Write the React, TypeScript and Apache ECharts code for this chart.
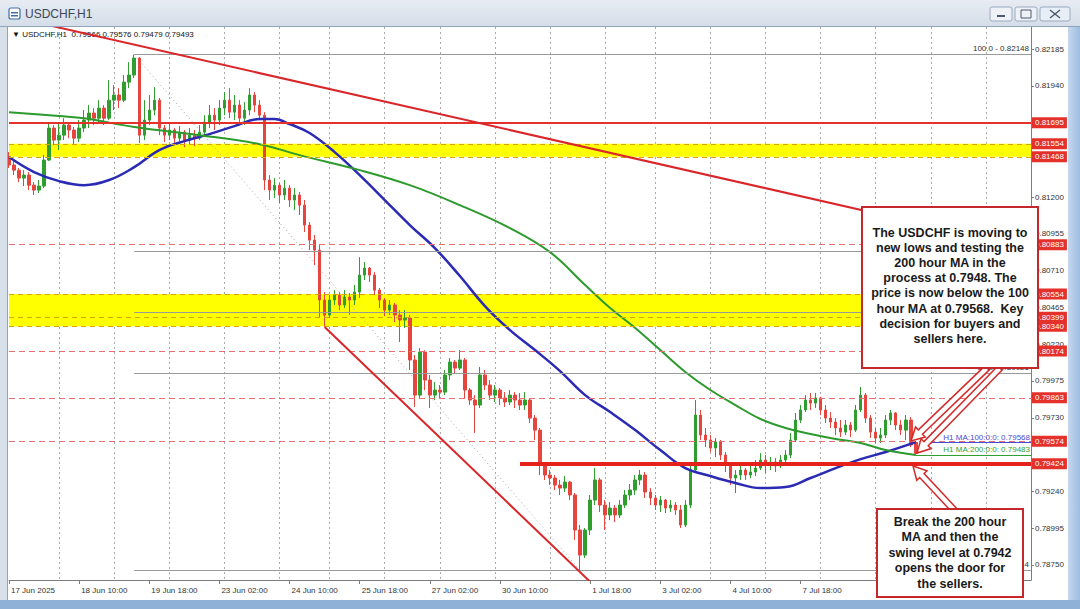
import React, { useEffect, useRef } from "react";
import * as echarts from "echarts";

// Prices are stored in points (1e-5), e.g. 81695 = 0.81695
// candle: [open, close, low, high]
const candles: number[][] = [
  [81459, 81413, 81393, 81499], [81413, 81379, 81346, 81446], [81379, 81326, 81299, 81393], [81326, 81346, 81273, 81379],
  [81346, 81279, 81246, 81366], [81279, 81246, 81213, 81299], [81246, 81273, 81226, 81313], [81273, 81446, 81259, 81479],
  [81446, 81659, 81440, 81692], [81659, 81579, 81546, 81679], [81579, 81612, 81512, 81699], [81612, 81679, 81579, 81725],
  [81679, 81646, 81592, 81699], [81646, 81592, 81546, 81666], [81592, 81659, 81566, 81712], [81659, 81712, 81632, 81779],
  [81712, 81759, 81659, 81812], [81759, 81725, 81679, 81792], [81725, 81792, 81699, 81845], [81792, 81725, 81679, 81812],
  [81725, 81845, 81712, 81978], [81845, 81879, 81779, 81945], [81879, 81845, 81792, 81925], [81845, 81965, 81832, 82012],
  [81965, 82012, 81925, 82098], [82012, 82125, 81992, 82148], [82125, 81612, 81559, 82130], [81612, 81712, 81579, 81845],
  [81712, 81779, 81679, 81879], [81779, 81845, 81745, 81932], [81845, 81659, 81612, 81859], [81659, 81612, 81566, 81679],
  [81612, 81646, 81579, 81699], [81646, 81592, 81546, 81659], [81592, 81632, 81566, 81672], [81632, 81579, 81532, 81646],
  [81579, 81612, 81546, 81659], [81612, 81592, 81539, 81646], [81592, 81632, 81579, 81679], [81632, 81699, 81606, 81745],
  [81699, 81745, 81659, 81812], [81745, 81712, 81646, 81792], [81712, 81792, 81679, 81845], [81792, 81845, 81745, 81899],
  [81845, 81765, 81725, 81925], [81765, 81812, 81712, 81879], [81812, 81725, 81679, 81845], [81725, 81779, 81679, 81832],
  [81779, 81879, 81745, 81925], [81879, 81812, 81765, 81899], [81812, 81745, 81712, 81845], [81745, 81313, 81246, 81765],
  [81313, 81246, 81180, 81346], [81246, 81279, 81193, 81326], [81279, 81213, 81160, 81293], [81213, 81259, 81180, 81313],
  [81259, 81180, 81133, 81279], [81180, 81213, 81113, 81259], [81213, 81146, 81080, 81233], [81146, 81013, 80967, 81180],
  [81013, 80913, 80847, 81033], [80913, 80847, 80747, 80947], [80847, 80514, 80394, 80880], [80514, 80414, 80334, 80567],
  [80414, 80514, 80394, 80547], [80514, 80547, 80481, 80580], [80547, 80481, 80447, 80567], [80481, 80534, 80461, 80580],
  [80534, 80514, 80414, 80561], [80514, 80567, 80481, 80614], [80567, 80680, 80527, 80800], [80680, 80727, 80647, 80767],
  [80727, 80680, 80634, 80734], [80680, 80580, 80547, 80700], [80580, 80514, 80461, 80594], [80514, 80447, 80407, 80527],
  [80447, 80481, 80414, 80514], [80481, 80414, 80367, 80494], [80414, 80381, 80234, 80447], [80381, 80394, 80328, 80447],
  [80394, 80115, 80048, 80414], [80115, 79881, 79802, 80148], [79881, 80168, 79862, 80194], [80168, 79981, 79915, 80180],
  [79981, 79881, 79795, 80015], [79881, 79915, 79848, 79968], [79915, 79901, 79862, 79948], [79901, 80015, 79881, 80048],
  [80015, 80101, 79981, 80128], [80101, 80061, 80028, 80115], [80061, 80115, 80048, 80181], [80115, 79915, 79862, 80128],
  [79915, 79848, 79815, 79928], [79848, 79815, 79629, 79881], [79815, 80015, 79795, 80068], [80015, 79948, 79915, 80048],
  [79948, 79881, 79848, 79981], [79881, 79915, 79835, 79948], [79915, 79862, 79815, 79928], [79862, 79835, 79802, 79901],
  [79835, 79881, 79815, 79915], [79881, 79848, 79795, 79901], [79848, 79815, 79782, 79895], [79815, 79848, 79782, 79901],
  [79848, 79728, 79695, 79862], [79728, 79648, 79582, 79748], [79648, 79415, 79349, 79662], [79415, 79349, 79316, 79435],
  [79349, 79329, 79282, 79382], [79329, 79282, 79249, 79349], [79282, 79262, 79216, 79316], [79262, 79302, 79236, 79342],
  [79302, 79216, 79182, 79310], [79216, 78983, 78916, 79229], [78983, 78816, 78714, 79016], [78816, 78983, 78796, 78996],
  [78983, 79182, 78949, 79216], [79182, 79316, 79149, 79395], [79316, 79149, 79103, 79329], [79149, 79083, 78983, 79182],
  [79083, 79129, 79049, 79169], [79129, 79083, 79036, 79149], [79083, 79149, 79063, 79182], [79149, 79216, 79129, 79249],
  [79216, 79249, 79182, 79289], [79249, 79316, 79216, 79349], [79316, 79349, 79282, 79382], [79349, 79236, 79196, 79369],
  [79236, 79196, 79149, 79262], [79196, 79149, 79116, 79216], [79149, 79182, 79103, 79209], [79182, 79129, 79096, 79190],
  [79129, 79149, 79103, 79182], [79149, 79116, 79083, 79169], [79116, 79016, 78996, 79149], [79016, 79149, 79003, 79182],
  [79149, 79382, 79129, 79415], [79382, 79748, 79369, 79848], [79748, 79615, 79582, 79782], [79615, 79582, 79535, 79662],
  [79582, 79529, 79502, 79615], [79529, 79569, 79469, 79595], [79569, 79482, 79449, 79582], [79482, 79415, 79369, 79502],
  [79415, 79329, 79282, 79435], [79329, 79349, 79229, 79382], [79349, 79382, 79316, 79415], [79382, 79349, 79316, 79395],
  [79349, 79369, 79329, 79409], [79369, 79395, 79342, 79449], [79395, 79449, 79382, 79495], [79449, 79415, 79362, 79482],
  [79415, 79435, 79382, 79469], [79435, 79409, 79369, 79462], [79409, 79449, 79395, 79482], [79449, 79482, 79415, 79515],
  [79482, 79582, 79462, 79629], [79582, 79715, 79569, 79762], [79715, 79782, 79695, 79815], [79782, 79848, 79768, 79881],
  [79848, 79828, 79782, 79895], [79828, 79862, 79795, 79895], [79862, 79782, 79748, 79870], [79782, 79728, 79695, 79815],
  [79728, 79702, 79662, 79768], [79702, 79662, 79615, 79728], [79662, 79635, 79602, 79715], [79635, 79682, 79615, 79715],
  [79682, 79648, 79602, 79702], [79648, 79782, 79635, 79815], [79782, 79881, 79768, 79935], [79881, 79728, 79695, 79895],
  [79728, 79635, 79595, 79748], [79635, 79595, 79562, 79662], [79595, 79615, 79562, 79662], [79615, 79715, 79595, 79748],
  [79715, 79762, 79682, 79782], [79762, 79682, 79648, 79768], [79682, 79648, 79615, 79715], [79648, 79715, 79582, 79748],
  [79715, 79549, 79535, 79735], [79566, 79493, 79479, 79576],
];

// moving averages read at candle indices: [index, value]
const ma100: number[][] = [
  [0, 81466], [5, 81366], [10, 81306], [15, 81279], [20, 81313], [25, 81399], [30, 81512], [35, 81572],
  [40, 81619], [45, 81672], [50, 81719], [53, 81719], [56, 81686], [60, 81626], [65, 81499], [70, 81346],
  [75, 81180], [80, 81013], [85, 80860], [90, 80674], [95, 80474], [100, 80314], [105, 80181], [110, 80041],
  [115, 79881], [120, 79768], [125, 79648], [130, 79515], [135, 79395], [140, 79342], [145, 79296], [150, 79262],
  [155, 79269], [160, 79329], [165, 79395], [170, 79455], [175, 79502], [181, 79568],
];
const ma200: number[][] = [
  [0, 81765], [10, 81739], [15, 81725], [25, 81666], [38, 81612], [50, 81552], [58, 81479], [70, 81379],
  [80, 81279], [90, 81146], [100, 80993], [108, 80833], [115, 80614], [120, 80461], [125, 80328], [130, 80181],
  [135, 80035], [140, 79915], [145, 79815], [150, 79722], [155, 79662], [160, 79622], [165, 79589], [170, 79562],
  [175, 79515], [181, 79482],
];

const categoryCount = 205;
const timeTicks: [number, string][] = [
  [0, "17 Jun 2025"], [14, "18 Jun 10:00"], [28, "19 Jun 18:00"], [42, "23 Jun 02:00"], [56, "24 Jun 10:00"],
  [70, "25 Jun 18:00"], [84, "27 Jun 02:00"], [98, "30 Jun 10:00"], [116, "1 Jul 18:00"], [130, "3 Jul 02:00"],
  [144, "4 Jul 10:00"], [158, "7 Jul 18:00"],
];
const gridLineIdx = [10, 21, 32, 43, 54, 64, 75, 86, 97, 108, 119, 129, 140, 151, 162, 173, 184, 195];

const priceTicks = [82185, 81940, 81200, 80955, 80710, 80465, 80220, 79975, 79730, 79240, 78995, 78750];
const solidLevels = [81695];
const bandUpper = [81554, 81468];
const bandLower = [80554, 80340];
const bandDashedLevels = [81554, 81468, 80554, 80399, 80340];
const dashedLevels = [80883, 80174, 79863, 79574];
const supportLevel = 79424;
const supportStartIdx = 102;
const lastPrice = 79493;
const ma100Last = 79568;
const ma200Last = 79483;
const fibHigh = 82148;
const fibLow = 78714;
const fibHighIdx = 25;
const fibLowIdx = 114;
const fibRatios = [1, 0.618, 0.5, 0.382, 0];
const fibLabelled = [1, 0.382, 0];
const topTrend: number[][] = [[0, 82404], [178, 81054]];
const lowTrend: number[][] = [[63, 80334], [120, 78510]];

const FONT = '"Liberation Sans", Arial, sans-serif';
const fmt = (v: number) => (v / 1e5).toFixed(5);

function arrowPoints(tail: number[], tip: number[], sh: number, hh: number, hl: number) {
  const dx = tip[0] - tail[0];
  const dy = tip[1] - tail[1];
  const len = Math.hypot(dx, dy);
  const ux = dx / len, uy = dy / len;
  const nx = -uy, ny = ux;
  const bx = tip[0] - ux * hl, by = tip[1] - uy * hl;
  return [
    [tail[0] + nx * sh, tail[1] + ny * sh],
    [bx + nx * sh, by + ny * sh],
    [bx + nx * hh, by + ny * hh],
    [tip[0], tip[1]],
    [bx - nx * hh, by - ny * hh],
    [bx - nx * sh, by - ny * sh],
    [tail[0] - nx * sh, tail[1] - ny * sh],
  ];
}

export default function App() {
  const ref = useRef<HTMLDivElement>(null);
  useEffect(() => {
    if (!ref.current) return;
    const chart = echarts.init(ref.current, undefined, { renderer: "svg" });
    const tickMap = new Map(timeTicks);
    const gridSet = new Set(gridLineIdx);
    const categories = Array.from({ length: categoryCount }, (_, i) => tickMap.get(i) ?? "b" + i);
    const lastIdx = categoryCount - 1;

    const redLabel = (v: number, bg = "#e4322b") => ({
      show: true,
      position: "end",
      distance: 1,
      formatter: fmt(v),
      backgroundColor: bg,
      color: "#ffffff",
      fontSize: 8,
      fontFamily: FONT,
      padding: [2, 3, 1, 3],
    });

    const bgMarkLines: any[] = [];
    solidLevels.forEach((v) =>
      bgMarkLines.push({ yAxis: v, lineStyle: { color: "#e4322b", width: 2, type: "solid" }, label: redLabel(v) })
    );
    bandDashedLevels.forEach((v) =>
      bgMarkLines.push({ yAxis: v, lineStyle: { color: "#d9a400", width: 1, type: [5, 4] }, label: redLabel(v) })
    );
    dashedLevels.forEach((v) =>
      bgMarkLines.push({ yAxis: v, lineStyle: { color: "#e87070", width: 1, type: [6, 4] }, label: redLabel(v) })
    );
    bgMarkLines.push({ yAxis: lastPrice, lineStyle: { opacity: 0 }, label: redLabel(lastPrice, "#000000") });

    fibRatios.forEach((r) => {
      const v = Math.round(fibLow + r * (fibHigh - fibLow));
      const lbl = {
        show: fibLabelled.includes(r),
        position: "insideEndTop",
        distance: 2,
        formatter: `${(r * 100).toFixed(1)} - ${fmt(v)}`,
        color: "#333333",
        fontSize: 8,
        fontFamily: FONT,
      };
      bgMarkLines.push([
        { coord: [fibHighIdx, v], lineStyle: { color: "#9a9a9a", width: 1, type: "solid" }, label: lbl },
        { coord: [lastIdx, v], lineStyle: { color: "#9a9a9a", width: 1, type: "solid" }, label: lbl },
      ]);
    });

    const maLine = (start: number, v: number, color: string, text: string) => {
      const lbl = { show: true, position: "insideEndTop", distance: 1, formatter: text, color, fontSize: 8, fontFamily: FONT };
      return [
        { coord: [start, v], lineStyle: { color, width: 1, type: "solid" }, label: lbl },
        { coord: [lastIdx, v], lineStyle: { color, width: 1, type: "solid" }, label: lbl },
      ];
    };
    bgMarkLines.push(maLine(182, ma100Last, "#4b4bd0", `H1 MA:100:0:0: ${fmt(ma100Last)}`));
    bgMarkLines.push(maLine(181, ma200Last, "#2f9f2f", `H1 MA:200:0:0: ${fmt(ma200Last)}`));

    const supportLine = [
      { coord: [supportStartIdx, supportLevel], lineStyle: { color: "#e4221b", width: 4, type: "solid" }, label: redLabel(supportLevel) },
      { coord: [lastIdx, supportLevel], lineStyle: { color: "#e4221b", width: 4, type: "solid" }, label: redLabel(supportLevel) },
    ];

    const up = "#2f9e2f";
    const down = "#e5453d";

    const option: any = {
      animation: false,
      backgroundColor: "#ffffff",
      textStyle: { fontFamily: FONT },
      grid: { left: 9, right: 49, top: 27, bottom: 29, containLabel: false },
      xAxis: {
        type: "category",
        data: categories,
        boundaryGap: false,
        axisLine: { show: true, lineStyle: { color: "#7d7d7d", width: 1 } },
        axisTick: { show: true, interval: (i: number) => tickMap.has(i), length: 4, lineStyle: { color: "#7d7d7d" } },
        axisLabel: {
          interval: (i: number) => tickMap.has(i),
          formatter: (_v: string, i: number) => tickMap.get(i) ?? "",
          align: "left",
          fontSize: 8,
          color: "#333333",
          margin: 6,
          padding: [0, 0, 0, 2],
          fontFamily: FONT,
        },
        splitLine: {
          show: true,
          interval: (i: number) => gridSet.has(i),
          lineStyle: { color: "#a8a8a8", type: [2, 3], width: 1 },
        },
      },
      yAxis: {
        type: "value",
        position: "right",
        min: 78650,
        max: 82332,
        axisLine: { show: true, lineStyle: { color: "#7d7d7d", width: 1 } },
        axisTick: { show: true, customValues: priceTicks, length: 3, lineStyle: { color: "#7d7d7d" } },
        axisLabel: {
          customValues: priceTicks,
          formatter: (v: number) => fmt(v),
          fontSize: 8,
          color: "#333333",
          margin: 4,
          fontFamily: FONT,
        },
        splitLine: { show: false },
      },
      series: [
        {
          name: "levels",
          type: "line",
          data: [],
          z: 1,
          silent: true,
          markArea: {
            silent: true,
            itemStyle: { color: "#ffff00" },
            data: [
              [{ yAxis: bandUpper[0] }, { yAxis: bandUpper[1] }],
              [{ yAxis: bandLower[0] }, { yAxis: bandLower[1] }],
            ],
          },
          markLine: { silent: true, symbol: ["none", "none"], data: bgMarkLines },
        },
        {
          name: "fibDiag",
          type: "line",
          z: 2,
          data: [[fibHighIdx, fibHigh], [fibLowIdx, fibLow]],
          symbol: "none",
          lineStyle: { color: "#b0a0a0", width: 1, type: [1, 3] },
        },
        {
          name: "USDCHF",
          type: "candlestick",
          z: 3,
          data: candles,
          barWidth: 3,
          itemStyle: { color: up, color0: down, borderColor: up, borderColor0: down, borderWidth: 1 },
        },
        {
          name: "MA100",
          type: "line",
          z: 4,
          data: ma100,
          smooth: 0.4,
          symbol: "none",
          lineStyle: { color: "#2a2ab4", width: 2.5 },
        },
        {
          name: "MA200",
          type: "line",
          z: 4,
          data: ma200,
          smooth: 0.4,
          symbol: "none",
          lineStyle: { color: "#2c9a2c", width: 2 },
        },
        {
          name: "topTrend",
          type: "line",
          z: 5,
          data: topTrend,
          symbol: "none",
          lineStyle: { color: "#d9262a", width: 2 },
        },
        {
          name: "lowTrend",
          type: "line",
          z: 5,
          data: lowTrend,
          symbol: "none",
          lineStyle: { color: "#d9262a", width: 2 },
        },
        {
          name: "support",
          type: "line",
          z: 5,
          data: [],
          markLine: { silent: true, symbol: ["none", "none"], data: [supportLine] },
        },
      ],
      graphic: [
        // window chrome
        {
          type: "rect",
          z: 50,
          shape: { x: 0, y: 0, width: 1080, height: 27 },
          style: {
            fill: new echarts.graphic.LinearGradient(0, 0, 0, 1, [
              { offset: 0, color: "#e7ecf3" },
              { offset: 1, color: "#d4dde8" },
            ]),
          },
        },
        { type: "rect", z: 50, shape: { x: 0, y: 26, width: 1080, height: 1 }, style: { fill: "#8fa3bb" } },
        { type: "rect", z: 50, shape: { x: 9, y: 8, width: 11, height: 11, r: 2 }, style: { fill: "#ffffff", stroke: "#3e6fa8", lineWidth: 1.2 } },
        { type: "rect", z: 51, shape: { x: 11, y: 12, width: 7, height: 1.5 }, style: { fill: "#3e6fa8" } },
        { type: "rect", z: 51, shape: { x: 11, y: 15, width: 7, height: 1.5 }, style: { fill: "#3e6fa8" } },
        {
          type: "text",
          z: 51,
          style: { text: "USDCHF,H1", x: 25, y: 14, fontSize: 12, fontFamily: FONT, fill: "#3b4656", verticalAlign: "middle" },
        },
        { type: "rect", z: 50, shape: { x: 990, y: 7, width: 22, height: 14, r: 2 }, style: { fill: "#eef2f7", stroke: "#9aaac0" } },
        { type: "rect", z: 50, shape: { x: 1015, y: 7, width: 22, height: 14, r: 2 }, style: { fill: "#eef2f7", stroke: "#9aaac0" } },
        { type: "rect", z: 50, shape: { x: 1040, y: 7, width: 30, height: 14, r: 2 }, style: { fill: "#e8eef5", stroke: "#9aaac0" } },
        { type: "rect", z: 51, shape: { x: 997, y: 15, width: 8, height: 2 }, style: { fill: "#4a5a70" } },
        { type: "rect", z: 51, shape: { x: 1021, y: 10, width: 10, height: 8 }, style: { fill: "none", stroke: "#4a5a70", lineWidth: 1 } },
        { type: "line", z: 51, shape: { x1: 1050, y1: 10, x2: 1060, y2: 18 }, style: { stroke: "#4a5a70", lineWidth: 1.5 } },
        { type: "line", z: 51, shape: { x1: 1060, y1: 10, x2: 1050, y2: 18 }, style: { stroke: "#4a5a70", lineWidth: 1.5 } },
        { type: "rect", z: 50, shape: { x: 0, y: 27, width: 8, height: 582 }, style: { fill: "#d8e0ea" } },
        { type: "rect", z: 50, shape: { x: 7, y: 27, width: 1, height: 574 }, style: { fill: "#8fa3bb" } },
        {
          type: "rect",
          z: 50,
          shape: { x: 1068, y: 27, width: 12, height: 582 },
          style: {
            fill: new echarts.graphic.LinearGradient(0, 0, 1, 0, [
              { offset: 0, color: "#c5d8ee" },
              { offset: 1, color: "#9dbde0" },
            ]),
          },
        },
        { type: "rect", z: 50, shape: { x: 0, y: 600, width: 1080, height: 9 }, style: { fill: "#8fb1d8" } },
        // header
        {
          type: "text",
          z: 1,
          style: {
            text: "\u25BC USDCHF,H1  0.79566 0.79576 0.79479 0.79493",
            x: 12,
            y: 34,
            fontSize: 8,
            fontFamily: FONT,
            fill: "#111111",
            verticalAlign: "middle",
          },
        },
        // arrows
        ...[
          [[987, 368], [911, 441]],
          [[1000, 368], [917, 453]],
          [[955, 511], [913, 466]],
        ].map((a) => ({
          type: "polygon",
          z: 90,
          shape: { points: arrowPoints(a[0], a[1], 3, 7, 13) },
          style: { fill: "#ffffff", stroke: "#d42a2a", lineWidth: 1.5 },
        })),
        // annotation boxes
        {
          type: "rect",
          z: 100,
          shape: { x: 862, y: 207, width: 176, height: 161 },
          style: { fill: "#ffffff", stroke: "#c4282d", lineWidth: 2 },
        },
        {
          type: "text",
          z: 101,
          style: {
            text:
              "The USDCHF is moving to\nnew lows and testing the\n200 hour MA in the\nprocess at 0.7948. The\nprice is now below the 100\nhour MA at 0.79568.  Key\ndecision for buyers and\nsellers here.",
            x: 950,
            y: 225,
            align: "center",
            verticalAlign: "top",
            font: `bold 12.5px ${FONT}`,
            lineHeight: 15.2,
            fill: "#1a1a1a",
          },
        },
        {
          type: "rect",
          z: 100,
          shape: { x: 877, y: 509, width: 146, height: 88 },
          style: { fill: "#ffffff", stroke: "#c4282d", lineWidth: 2 },
        },
        {
          type: "text",
          z: 101,
          style: {
            text: "Break the 200 hour\nMA and then the\nswing level at 0.7942\nopens the door for\nthe sellers.",
            x: 950,
            y: 514,
            align: "center",
            verticalAlign: "top",
            font: `bold 12.5px ${FONT}`,
            lineHeight: 15.5,
            fill: "#1a1a1a",
          },
        },
      ],
    };
    chart.setOption(option);
    return () => chart.dispose();
  }, []);
  return <div ref={ref} style={{ position: "fixed", left: 0, top: 0, width: 1080, height: 609 }} />;
}
